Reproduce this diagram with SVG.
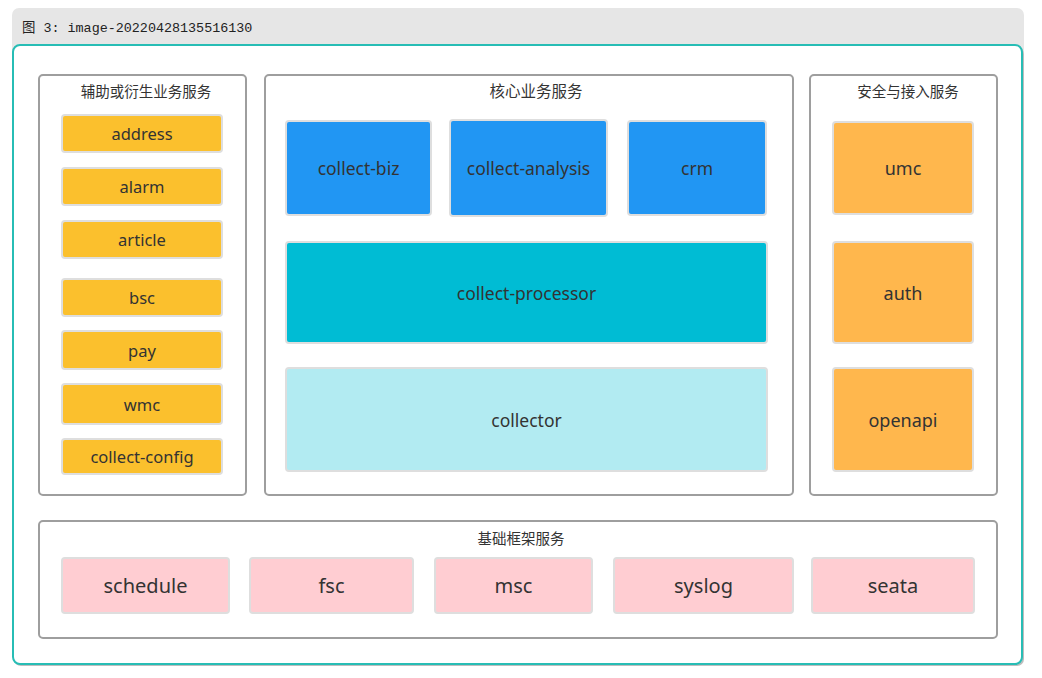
<svg xmlns="http://www.w3.org/2000/svg" width="1042" height="678" viewBox="0 0 1042 678">
<style>
.t{font-family:"Noto Sans","Noto Sans CJK SC",sans-serif;fill:#333;text-anchor:middle;dominant-baseline:central}
.grp{fill:#fff;stroke:#9e9e9e;stroke-width:2}
.nd{stroke:#dedede;stroke-width:2}
.y{fill:#fbc02d}.b{fill:#2196f3}.c{fill:#00bcd4}.lc{fill:#b2ebf2}.o{fill:#ffb74d}.p{fill:#ffcdd2}
.s16{font-size:16.5px}.s17{font-size:17.5px}.s18{font-size:18px}.s20{font-size:20px}.ttl{font-size:14.5px}
</style>
<rect width="1042" height="678" fill="#fff"/>
<rect x="12" y="8" width="1012" height="60" rx="7" fill="#e6e6e6"/>
<text x="22" y="32" style="font-family:'Liberation Mono','Noto Sans CJK SC',monospace;font-size:13.4px;fill:#222">图 3: image-20220428135516130</text>
<rect x="14" y="47" width="1010" height="619" rx="7" fill="#bdbdbd"/>
<rect x="13" y="45" width="1009" height="619" rx="7" fill="#fff" stroke="#27bdb5" stroke-width="2"/>

<g id="g-aux">
<rect class="grp" x="39" y="75" width="207" height="420" rx="4"/>
<text class="t ttl" x="146" y="91">辅助或衍生业务服务</text>
</g>
<g id="g-core">
<rect class="grp" x="265" y="75" width="528" height="420" rx="4"/>
<text class="t" style="font-size:15.5px" x="536" y="91">核心业务服务</text>
</g>
<g id="g-sec">
<rect class="grp" x="810" y="75" width="187" height="420" rx="4"/>
<text class="t ttl" x="908" y="91">安全与接入服务</text>
</g>
<g id="g-base">
<rect class="grp" x="39" y="521" width="958" height="117" rx="4"/>
<text class="t ttl" x="521" y="538">基础框架服务</text>
</g>

<g id="n-address"><rect class="nd y" x="62" y="115" width="160" height="37" rx="3"/><text class="t s16" x="142" y="133.5">address</text></g>
<g id="n-alarm"><rect class="nd y" x="62" y="168" width="160" height="37" rx="3"/><text class="t s16" x="142" y="186.5">alarm</text></g>
<g id="n-article"><rect class="nd y" x="62" y="221" width="160" height="37" rx="3"/><text class="t s16" x="142" y="239.5">article</text></g>
<g id="n-bsc"><rect class="nd y" x="62" y="279" width="160" height="37" rx="3"/><text class="t s16" x="142" y="297.5">bsc</text></g>
<g id="n-pay"><rect class="nd y" x="62" y="331" width="160" height="38" rx="3"/><text class="t s16" x="142" y="350">pay</text></g>
<g id="n-wmc"><rect class="nd y" x="62" y="384" width="160" height="40" rx="3"/><text class="t s16" x="142" y="404">wmc</text></g>
<g id="n-collect-config"><rect class="nd y" x="62" y="439" width="160" height="35" rx="3"/><text class="t s16" x="142" y="456.5">collect-config</text></g>

<g id="n-collect-biz"><rect class="nd b" x="286" y="121" width="145" height="94" rx="3"/><text class="t s17" x="358.5" y="168">collect-biz</text></g>
<g id="n-collect-analysis"><rect class="nd b" x="450" y="120" width="157" height="96" rx="3"/><text class="t s17" x="528.5" y="168">collect-analysis</text></g>
<g id="n-crm"><rect class="nd b" x="628" y="121" width="138" height="94" rx="3"/><text class="t s17" x="697" y="168">crm</text></g>
<g id="n-collect-processor"><rect class="nd c" x="286" y="242" width="481" height="101" rx="3"/><text class="t s17" x="526.5" y="292.5">collect-processor</text></g>
<g id="n-collector"><rect class="nd lc" x="286" y="368" width="481" height="103" rx="3"/><text class="t s17" x="526.5" y="419.5">collector</text></g>

<g id="n-umc"><rect class="nd o" x="833" y="122" width="140" height="92" rx="3"/><text class="t s18" x="903" y="168">umc</text></g>
<g id="n-auth"><rect class="nd o" x="833" y="242" width="140" height="101" rx="3"/><text class="t s18" x="903" y="292.5">auth</text></g>
<g id="n-openapi"><rect class="nd o" x="833" y="368" width="140" height="103" rx="3"/><text class="t s18" x="903" y="419.5">openapi</text></g>

<g id="n-schedule"><rect class="nd p" x="62" y="558" width="167" height="55" rx="3"/><text class="t s20" x="145.5" y="585.5">schedule</text></g>
<g id="n-fsc"><rect class="nd p" x="250" y="558" width="163" height="55" rx="3"/><text class="t s20" x="331.5" y="585.5">fsc</text></g>
<g id="n-msc"><rect class="nd p" x="435" y="558" width="157" height="55" rx="3"/><text class="t s20" x="513.5" y="585.5">msc</text></g>
<g id="n-syslog"><rect class="nd p" x="614" y="558" width="179" height="55" rx="3"/><text class="t s20" x="703.5" y="585.5">syslog</text></g>
<g id="n-seata"><rect class="nd p" x="812" y="558" width="162" height="55" rx="3"/><text class="t s20" x="893" y="585.5">seata</text></g>

<g id="connectors"></g>
</svg>
